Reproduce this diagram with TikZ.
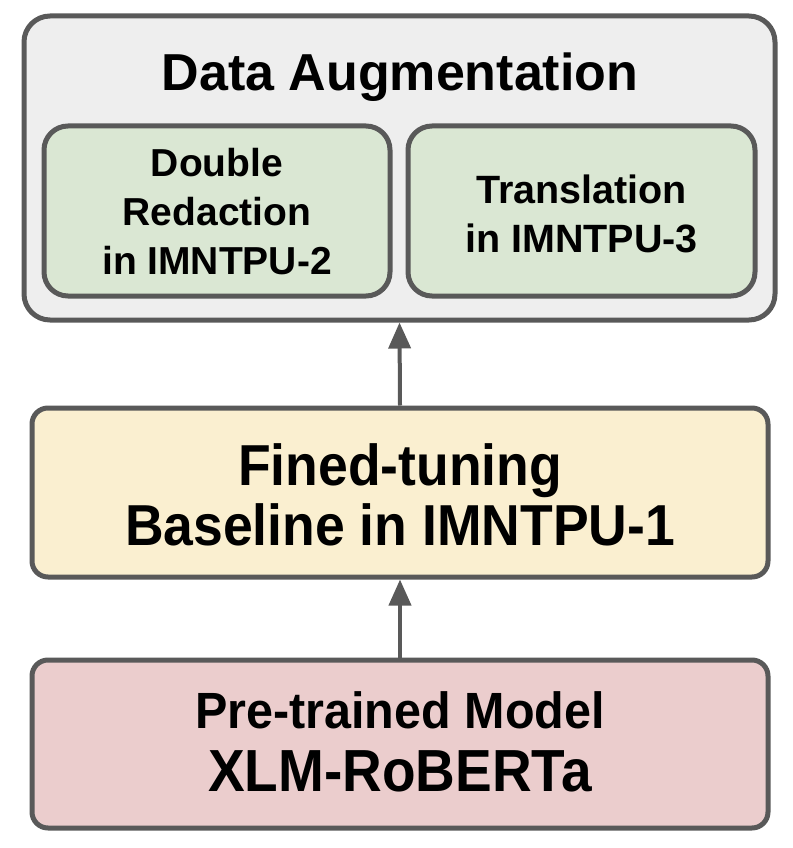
\documentclass[tikz,border=0pt]{standalone}
\usepackage{fontspec}
\setmainfont{Liberation Sans}
\usetikzlibrary{arrows.meta}
\definecolor{edge}{HTML}{595959}
\definecolor{outerfill}{HTML}{EEEEEE}
\definecolor{greenfill}{HTML}{DAE7D3}
\definecolor{yellowfill}{HTML}{FAEFD0}
\definecolor{redfill}{HTML}{EBCDCD}
\tikzset{
  box/.style={draw=edge, line width=5pt, rounded corners=#1, inner sep=0pt},
  box/.default=16pt,
  lbl/.style={font=\bfseries, align=center, inner sep=0pt},
  conn/.style={draw=edge, line width=4pt, -{Triangle[width=22pt,length=26pt]}}
}
\begin{document}
\begin{tikzpicture}[x=1pt,y=-1pt]
\useasboundingbox (0,0) rectangle (792,848);
\node[box=26pt, fill=outerfill, minimum width=751pt, minimum height=304pt] (aug) at (399.5,168) {};
\node[lbl, font=\fontsize{52}{60}\selectfont\bfseries] (augt) at (400,77) {Data Augmentation};
\node[box=24pt, fill=greenfill, minimum width=346pt, minimum height=170pt] (dr) at (217,211) {};
\node[lbl, font=\fontsize{39}{49}\selectfont\bfseries] (drt) at (217,212) {Double\\Redaction\\in IMNTPU-2};
\node[box=24pt, fill=greenfill, minimum width=347pt, minimum height=170pt] (tr) at (581.5,211) {};
\node[lbl, font=\fontsize{39.5}{49}\selectfont\bfseries] (trt) at (581.5,214) {Translation\\in IMNTPU-3};
\node[box=16pt, fill=yellowfill, minimum width=736pt, minimum height=169pt] (ft) at (400,492.5) {};
\node[lbl, font=\fontsize{53.5}{60}\selectfont\bfseries] (ftt) at (400,495) {\scalebox{1}[1.08]{Fined-tuning}\\\scalebox{1}[1.08]{Baseline in IMNTPU-1}};
\node[box=16pt, fill=redfill, minimum width=736pt, minimum height=168pt] (pm) at (400,744) {};
\node[lbl, font=\fontsize{48.5}{63}\selectfont\bfseries] (pmt) at (400,742) {\scalebox{1}[1.05]{Pre-trained Model}\\\scalebox{1}[1.08]{\fontsize{55}{63}\selectfont XLM-RoBERTa}};
\draw[conn] (ft.north) -- (aug.south);
\draw[conn] (pm.north) -- (ft.south);
\end{tikzpicture}
\end{document}
